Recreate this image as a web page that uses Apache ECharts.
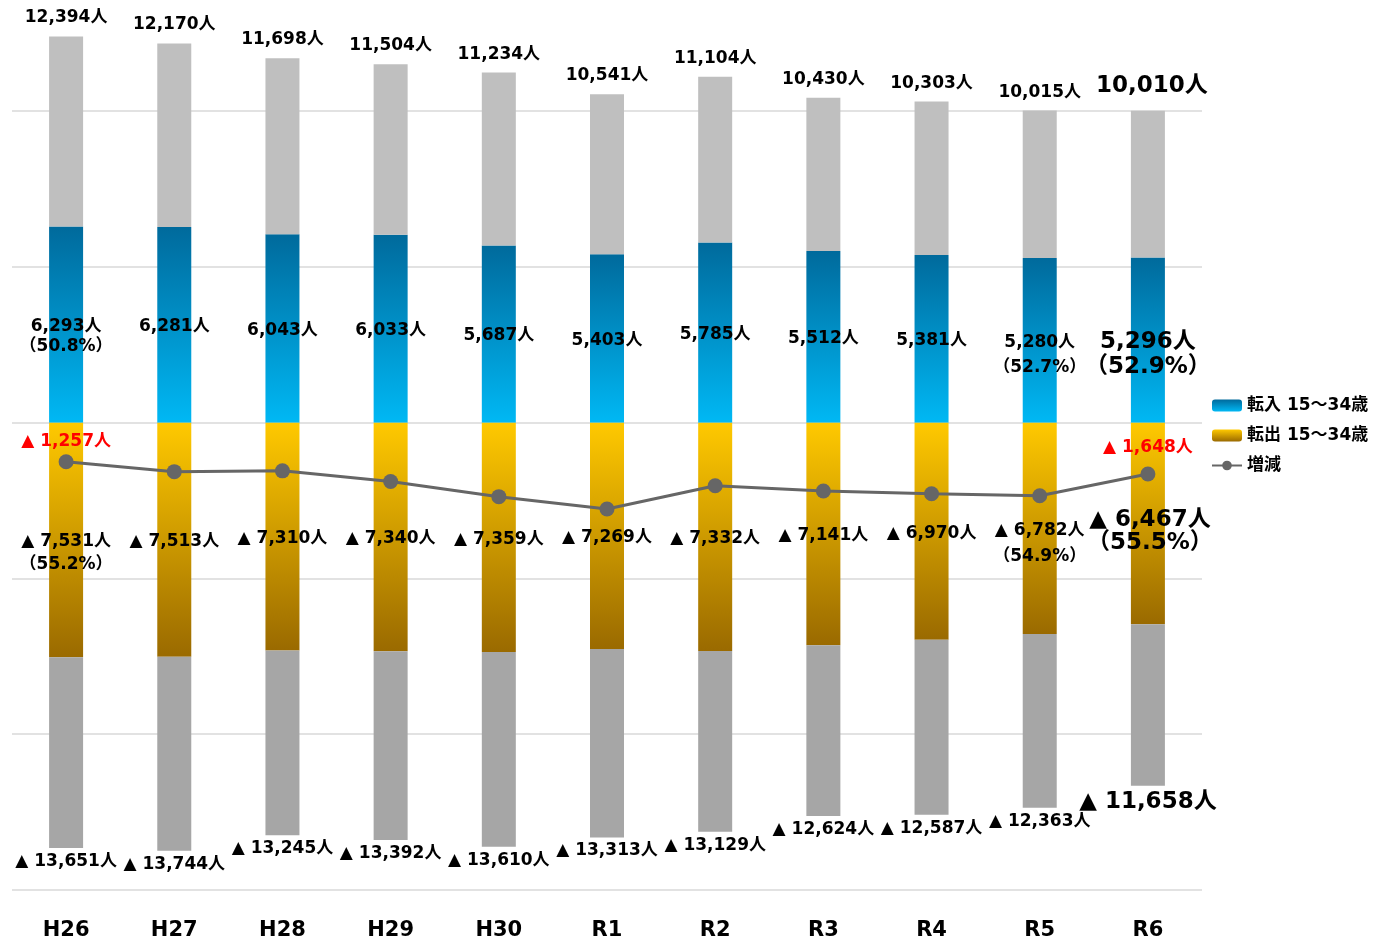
<!DOCTYPE html>
<html>
<head>
<meta charset="utf-8">
<script src="https://cdn.jsdelivr.net/npm/echarts@6/dist/echarts.min.js"></script>
<style>
html,body{margin:0;padding:0;background:#fff;}
#chart{width:1373px;height:941px;}
</style>
</head>
<body>
<div id="chart"></div>
<script>
const categories = ['H26','H27','H28','H29','H30','R1','R2','R3','R4','R5','R6'];
const inTotal  = [12394,12170,11698,11504,11234,10541,11104,10430,10303,10015,10010];
const in1534   = [6293,6281,6043,6033,5687,5403,5785,5512,5381,5280,5296];
const outTotal = [13651,13744,13245,13392,13610,13313,13129,12624,12587,12363,11658];
const out1534  = [7531,7513,7310,7340,7359,7269,7332,7141,6970,6782,6467];
const netChange = [-1257,-1574,-1547,-1888,-2376,-2772,-2025,-2194,-2284,-2348,-1648];
const inShare  = {0:'50.8%', 9:'52.7%', 10:'52.9%'};
const outShare = {0:'55.2%', 9:'54.9%', 10:'55.5%'};
const netLabelIdx = [0, 10];
const legendNames = ['転入 15～34歳', '転出 15～34歳', '増減'];

const FONT = "'DejaVu Sans', 'Noto Sans CJK JP', sans-serif";
const fmt = v => Math.abs(v).toLocaleString('en-US');
const last = categories.length - 1;
const BIG = 23, SMALL = 17;

const chart = echarts.init(document.getElementById('chart'));

const baseLabel = {fontFamily: FONT, fontWeight: 'bold', color: '#000', fontSize: SMALL};

// others (in) = total - 15-34 (stacked on blue)
const othersInData = inTotal.map((t, i) => ({
  value: t - in1534[i],
  label: Object.assign({}, baseLabel, {
    show: true, position: 'top', distance: i === last ? 13 : 10,
    fontSize: i === last ? BIG : SMALL,
    offset: i === last ? [4, 0] : [0, 0],
    formatter: fmt(t) + '人'
  })
}));

const in1534Data = in1534.map((v, i) => {
  const sh = inShare[i];
  const fs = i === last ? BIG : SMALL;
  const lh = i === 0 ? 20 : 25;
  return {
    value: v,
    label: Object.assign({}, baseLabel, {
      show: true, position: 'inside', fontSize: fs, lineHeight: sh ? lh : fs + 2,
      offset: sh ? [0, lh / 2 + 2] : [0, 2],
      formatter: fmt(v) + '人' + (sh ? '\n（' + sh + '）' : '')
    })
  };
});

const out1534Data = out1534.map((v, i) => {
  const sh = outShare[i];
  const fs = i === last ? BIG : SMALL;
  let lh = i === 0 ? 23 : 26;
  if (i === last) lh = 23;
  let off = sh ? [0, lh / 2 + 2] : [0, 2];
  if (i === last) off = [2, 8];
  return {
    value: -v,
    label: Object.assign({}, baseLabel, {
      show: true, position: 'inside', fontSize: fs, lineHeight: sh ? lh : fs + 2,
      offset: off,
      formatter: '▲ ' + fmt(v) + '人' + (sh ? '\n（' + sh + '）' : '')
    })
  };
});

const othersOutData = outTotal.map((t, i) => ({
  value: -(t - out1534[i]),
  label: Object.assign({}, baseLabel, {
    show: true, position: 'bottom', distance: 5,
    fontSize: i === last ? BIG : SMALL,
    formatter: '▲ ' + fmt(t) + '人'
  })
}));

const netData = netChange.map((v, i) => ({
  value: v,
  label: {
    show: netLabelIdx.indexOf(i) >= 0, position: 'top', distance: i === last ? 10 : 4,
    fontFamily: FONT, fontWeight: 'bold', fontSize: SMALL, color: '#FF0000',
    formatter: '▲ ' + fmt(v) + '人'
  }
}));

const blueGrad = new echarts.graphic.LinearGradient(0, 0, 0, 1, [
  {offset: 0, color: '#006A9C'}, {offset: 1, color: '#00B8F4'}
]);
const goldGrad = new echarts.graphic.LinearGradient(0, 0, 0, 1, [
  {offset: 0, color: '#FFC900'}, {offset: 1, color: '#9A6A00'}
]);

chart.setOption({
  animation: false,
  backgroundColor: '#fff',
  grid: {left: 12, right: 171, top: 2, bottom: 39, containLabel: false},
  legend: {
    data: legendNames,
    orient: 'vertical', left: 1206, top: 392, itemGap: 13,
    itemWidth: 30, itemHeight: 12,
    textStyle: {fontFamily: FONT, fontWeight: 'bold', fontSize: 17, color: '#000'},
    selectedMode: false
  },
  xAxis: {
    type: 'category', data: categories,
    axisLine: {show: false}, axisTick: {show: false},
    axisLabel: {fontFamily: FONT, fontWeight: 'bold', fontSize: 21, color: '#000', margin: 30}
  },
  yAxis: {
    type: 'value', min: -15000, max: 13500, interval: 5000,
    axisLabel: {show: false}, axisLine: {show: false}, axisTick: {show: false},
    splitLine: {showMaxLine: false, lineStyle: {color: '#D9D9D9', width: 1.5}}
  },
  series: [
    {name: legendNames[0], type: 'bar', stack: 'total', barWidth: 34,
     itemStyle: {color: blueGrad}, data: in1534Data, z: 2},
    {name: 'その他転入', type: 'bar', stack: 'total', barWidth: 34,
     itemStyle: {color: '#BFBFBF'}, data: othersInData, z: 2},
    {name: legendNames[1], type: 'bar', stack: 'total', barWidth: 34,
     itemStyle: {color: goldGrad}, data: out1534Data, z: 2},
    {name: 'その他転出', type: 'bar', stack: 'total', barWidth: 34,
     itemStyle: {color: '#A6A6A6'}, data: othersOutData, z: 2},
    {name: legendNames[2], type: 'line', data: netData, z: 5,
     symbol: 'circle', symbolSize: 15,
     lineStyle: {color: '#666666', width: 3},
     itemStyle: {color: '#666666'}}
  ]
});
</script>
</body>
</html>
